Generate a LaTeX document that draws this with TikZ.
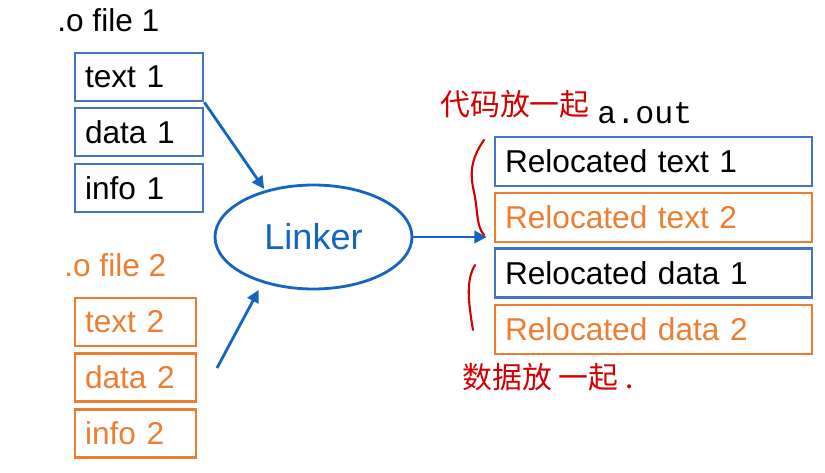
\documentclass[tikz,border=0pt]{standalone}
\usepackage{fontspec}
\setmainfont{Liberation Sans}
\setmonofont{Liberation Mono}
\newfontfamily\cjk{Noto Sans CJK SC}
\usetikzlibrary{arrows.meta,shapes.geometric}
\definecolor{boxblue}{HTML}{4472C4}
\definecolor{boxorange}{HTML}{ED7D31}
\definecolor{linkblue}{HTML}{1565C0}
\definecolor{penred}{HTML}{D40000}
\tikzset{
  secbox/.style={draw, line width=1.5pt, minimum height=0.96cm, inner xsep=0.2cm,
    text width=#1, align=left, font=\fontsize{18}{20}\selectfont},
  flow/.style={draw=linkblue, line width=1.6pt, -{Triangle[length=7pt,width=7pt]}},
  pen/.style={draw=penred, line width=1.2pt, line cap=round},
  handnote/.style={text=penred, font=\cjk\fontsize{17}{18}\selectfont, inner sep=0pt}
}
\begin{document}
\begin{tikzpicture}[x=0.02cm, y=-0.02cm]
\useasboundingbox (0,0) rectangle (825,473);
\node[anchor=west, inner sep=0pt, font=\fontsize{18}{20}\selectfont] (f1) at (57,20) {.o file 1};
\node[anchor=west, inner sep=0pt, text=boxorange, font=\fontsize{18}{20}\selectfont] (f2) at (64,265) {.o file 2};
\foreach \n/\lab/\y in {t1/{text 1}/77, d1/{data 1}/132, i1/{info 1}/188}{
  \node[secbox=2.16cm, draw=boxblue] (\n) at (139,\y) {\lab};
}
\foreach \n/\lab/\y in {t2/{text 2}/322, d2/{data 2}/377.5, i2/{info 2}/433.5}{
  \node[secbox=2.02cm, draw=boxorange, text=boxorange] (\n) at (135.5,\y) {\lab};
}
\node[ellipse, draw=linkblue, line width=1.6pt, minimum width=3.94cm, minimum height=2.08cm,
  text=linkblue, font=\fontsize{20.5}{22}\selectfont] (linker) at (313.5,237) {Linker};
\node[anchor=west, inner sep=0pt, font=\ttfamily\fontsize{18}{20}\selectfont] (aout) at (597,113) {a.out};
\foreach \n/\lab/\y/\c/\t in {rt1/{Relocated text 1}/161.5/boxblue/black, rt2/{Relocated text 2}/217.5/boxorange/boxorange,
  rd1/{Relocated data 1}/273/boxblue/black, rd2/{Relocated data 2}/329.5/boxorange/boxorange}{
  \node[secbox=5.94cm, minimum height=0.98cm, draw=\c, text=\t] (\n) at (653.5,\y) {\lab};
}
\coordinate (s2) at (217,368);
\draw[flow, shorten >=1pt] (t1.south east) -- (linker.136);
\draw[flow, shorten >=0.16cm] (s2) -- (linker.222);
\draw[flow, shorten >=0.14cm] (linker.east) -- (linker.east -| rt2.west);
% handwritten notes
\node[handnote] (n1) at (515,104) {代码放一起};
\node[handnote] (n2) at (548,377) {数据放 一起 .};
\draw[pen] (484,140) .. controls (470,160) and (470,175) .. (474,192) .. controls (478,210) and (476,226) .. (484,235);
\draw[pen] (475,265) .. controls (466,280) and (468,300) .. (473,330);
\end{tikzpicture}
\end{document}
